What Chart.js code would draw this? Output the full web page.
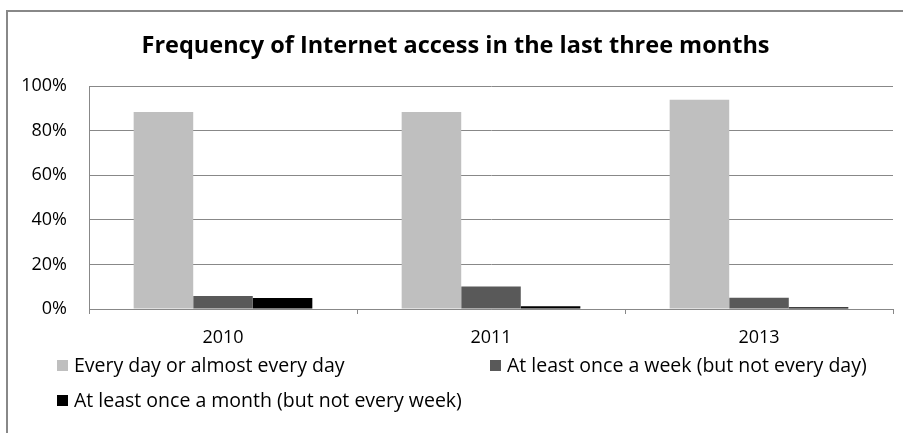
<!DOCTYPE html>
<html>
<head>
<meta charset="utf-8">
<script src="https://cdn.jsdelivr.net/npm/chart.js@4/dist/chart.umd.min.js"></script>
<style>
  html, body { margin: 0; padding: 0; background: #fff; }
  #wrap { position: relative; width: 903px; height: 433px; overflow: hidden; }
  #frame { position: absolute; left: 6px; top: 10px; width: 920px; height: 450px; border: 2px solid #888; box-sizing: border-box; }
  #chart { position: absolute; left: 0; top: 0; }
</style>
</head>
<body>
<div id="wrap">
  <div id="frame"></div>
  <canvas id="chart" width="903" height="433"></canvas>
</div>
<script>
// Share of internet users by how often they went online
const years = ['2010', '2011', '2013'];
const everyDay = [88.4, 88.4, 93.9];
const weekly = [5.8, 10.1, 5.0];
const monthly = [4.9, 1.2, 0.8];
const seriesNames = [
  'Every day or almost every day',
  'At least once a week (but not every day)',
  'At least once a month (but not every week)'
];
const yTicks = [0, 20, 40, 60, 80, 100];

const FONT = '"Open Sans", sans-serif';
Chart.defaults.font.family = FONT;
Chart.defaults.color = '#000';

// Legend drawn by hand: two items on the first row, one on the second
const sideLegend = {
  id: 'sideLegend',
  afterDraw(chart) {
    const ctx = chart.ctx;
    const slots = [[57, 366], [490, 366], [57, 401]];
    ctx.save();
    ctx.font = '19.5px ' + FONT;
    ctx.textBaseline = 'middle';
    chart.data.datasets.forEach((ds, i) => {
      const [x, y] = slots[i];
      ctx.fillStyle = ds.backgroundColor;
      ctx.fillRect(x, y - 6, 11, 11);
      ctx.fillStyle = '#000';
      ctx.fillText(ds.label, x + 17, y);
    });
    ctx.restore();
  }
};

new Chart(document.getElementById('chart'), {
  type: 'bar',
  data: {
    labels: years,
    datasets: [
      { label: seriesNames[0], data: everyDay, backgroundColor: '#bfbfbf' },
      { label: seriesNames[1], data: weekly, backgroundColor: '#595959' },
      { label: seriesNames[2], data: monthly, backgroundColor: '#000000' }
    ]
  },
  options: {
    responsive: false,
    animation: false,
    layout: { padding: { left: 18, right: 10, top: 0, bottom: 74 } },
    datasets: { bar: { categoryPercentage: 3 / 4.5, barPercentage: 1 } },
    scales: {
      x: {
        grid: { drawOnChartArea: false, color: '#888', tickLength: 5 },
        border: { color: '#888' },
        ticks: { font: { size: 18 }, padding: 13 },
        afterFit: s => { s.height = 50; }
      },
      y: {
        min: 0, max: 100,
        afterBuildTicks: s => { s.ticks = yTicks.map(v => ({ value: v })); },
        grid: { color: '#888', drawTicks: false },
        border: { color: '#888' },
        ticks: { font: { size: 18 }, padding: 22, callback: v => v + '%' },
        afterFit: s => { s.width = 71; }
      }
    },
    plugins: {
      legend: { display: false },
      tooltip: { enabled: false },
      title: {
        display: true,
        text: 'Frequency of Internet access in the last three months',
        font: { size: 23.5, weight: 'bold' },
        color: '#000',
        padding: { top: 32, bottom: 26 }
      }
    }
  },
  plugins: [sideLegend]
});
</script>
</body>
</html>
